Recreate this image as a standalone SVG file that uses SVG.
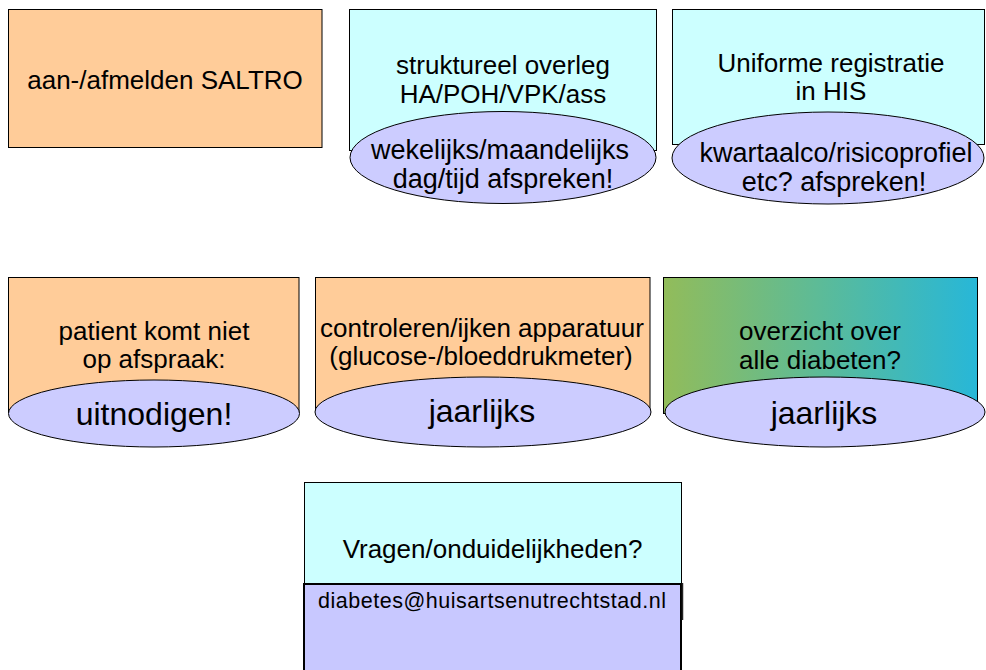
<svg xmlns="http://www.w3.org/2000/svg" width="986" height="670" viewBox="0 0 986 670">
<defs>
<style>
.box{stroke:#000;stroke-width:1}
.or{fill:#FFCC99}
.cy{fill:#CCFFFF}
.el{fill:#CCCCFF;stroke:#000;stroke-width:1}
text{font-family:"Liberation Sans",Arial,sans-serif;fill:#000;text-anchor:middle}
.t26{font-size:26px}
.t27{font-size:27px}
.t32{font-size:32px}
.t20{font-size:21.5px;text-anchor:start}
</style>
<linearGradient id="grad" x1="0" y1="0" x2="1" y2="0">
<stop offset="0" stop-color="#92BC5A"/>
<stop offset="0.5" stop-color="#5CBB98"/>
<stop offset="1" stop-color="#27B7D8"/>
</linearGradient>
</defs>
<rect width="986" height="670" fill="#fff"/>
<g id="node-saltro">
<rect class="box or" x="8.5" y="9.5" width="313.5" height="138"/>
<text class="t26" x="165" y="89">aan-/afmelden SALTRO</text>
</g>
<g id="node-overleg">
<rect class="box cy" x="349.5" y="9.5" width="307" height="141"/>
<ellipse class="el" cx="503" cy="157.5" rx="153" ry="46"/>
<text class="t26" x="503" y="74">struktureel overleg</text>
<text class="t26" x="503" y="103">HA/POH/VPK/ass</text>
<text class="t27" x="500" y="159">wekelijks/maandelijks</text>
<text class="t27" x="503" y="188">dag/tijd afspreken!</text>
</g>
<g id="node-registratie">
<rect class="box cy" x="672.5" y="9.5" width="312" height="135"/>
<ellipse class="el" cx="828" cy="158" rx="156" ry="46"/>
<text class="t26" x="831" y="72">Uniforme registratie</text>
<text class="t26" x="831" y="100">in HIS</text>
<text class="t27" x="836" y="162">kwartaalco/risicoprofiel</text>
<text class="t27" x="834" y="191">etc? afspreken!</text>
</g>
<g id="node-patient">
<rect class="box or" x="8.5" y="277.5" width="290.5" height="135"/>
<ellipse class="el" cx="154" cy="413.5" rx="145.5" ry="33.5"/>
<text class="t26" x="154" y="340">patient komt niet</text>
<text class="t26" x="154" y="368">op afspraak:</text>
<text class="t32" x="154" y="425">uitnodigen!</text>
</g>
<g id="node-apparatuur">
<rect class="box or" x="315.5" y="277.5" width="334.5" height="135"/>
<ellipse class="el" cx="483" cy="412" rx="168" ry="35"/>
<text class="t26" x="482" y="337">controleren/ijken apparatuur</text>
<text class="t26" x="481" y="365">(glucose-/bloeddrukmeter)</text>
<text class="t32" x="482" y="422">jaarlijks</text>
</g>
<g id="node-overzicht">
<rect class="box" fill="url(#grad)" x="663.5" y="277.5" width="314" height="136"/>
<ellipse class="el" cx="825" cy="412" rx="160" ry="35"/>
<text class="t26" x="820" y="340">overzicht over</text>
<text class="t26" x="820" y="369">alle diabeten?</text>
<text class="t32" x="824" y="424">jaarlijks</text>
</g>
<g id="node-vragen">
<rect class="box cy" x="304.5" y="482.5" width="377" height="101"/>
<text class="t26" x="492.5" y="558">Vragen/onduidelijkheden?</text>
<rect x="304" y="584" width="377" height="90" fill="#C8C8FF" stroke="#000" stroke-width="2"/>
<line x1="682.5" y1="583" x2="682.5" y2="620" stroke="#222" stroke-width="1.5"/>
<text class="t20" x="318" y="608" textLength="348" lengthAdjust="spacing">diabetes@huisartsenutrechtstad.nl</text>
</g>
<g id="connectors"></g>
</svg>
